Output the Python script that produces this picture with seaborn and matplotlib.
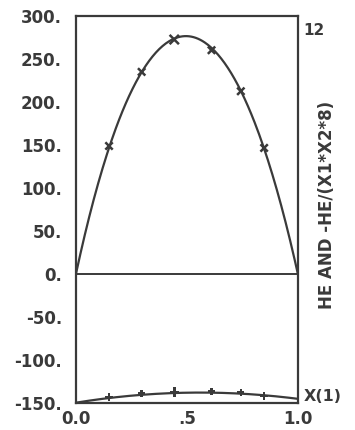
import numpy as np
import pandas as pd
import matplotlib
matplotlib.use("Agg")
import matplotlib.pyplot as plt
import seaborn as sns

# Measured excess enthalpy points (mole fraction of component 1)
x_meas = [0.149, 0.296, 0.443, 0.611, 0.743, 0.848]
he_meas = [148.6, 234.7, 272.3, 259.9, 212.2, 146.3]
# Reduced quantity -HE/(X1*X2*8) at the same compositions
he_red = [-143.3, -139.3, -137.4, -136.6, -138.1, -142.1]

# Redlich-Kister coefficients of the smoothing equation
rk_coeffs = [1105.0, -18.0, 75.0]

y_ticks = [300, 250, 200, 150, 100, 50, 0, -50, -100, -150]
y_tick_labels = ["300.", "250.", "200.", "150.", "100.", "50.", "0.", "-50.", "-100.", "-150."]
x_ticks = [0.0, 0.5, 1.0]
x_tick_labels = ["0.0", ".5", "1.0"]

ink = "#3a3a3a"

sns.set_style("white")
plt.rcParams["font.family"] = ["DejaVu Sans"]
plt.rcParams["font.weight"] = "bold"

fig = plt.figure(figsize=(3.55, 4.30), dpi=100)
ax = fig.add_axes([0.214, 0.063, 0.625, 0.9005])

# smoothing curve
xs = np.linspace(0.0, 1.0, 201)
z = 2 * xs - 1
q = sum(c * z**k for k, c in enumerate(rk_coeffs))
curve = pd.DataFrame({"x": xs, "he": xs * (1 - xs) * q, "red": -q / 8.0})

sns.lineplot(data=curve, x="x", y="he", ax=ax, color=ink, lw=1.6)
sns.lineplot(data=curve, x="x", y="red", ax=ax, color=ink, lw=1.6)

pts = pd.DataFrame({"x": x_meas, "he": he_meas, "red": he_red})
sizes = [45 if abs(v - 0.443) < 1e-6 else 28 for v in x_meas]
sns.scatterplot(data=pts, x="x", y="he", ax=ax, marker="x", s=sizes,
                color=ink, linewidth=1.8, legend=False, zorder=3)
sns.scatterplot(data=pts, x="x", y="red", ax=ax, marker="P", s=sizes,
                color=ink, linewidth=0, legend=False, zorder=3)

ax.axhline(0, color=ink, lw=1.4)

ax.set_xlim(0, 1)
ax.set_ylim(-150, 300)
ax.set_xticks(x_ticks)
ax.set_xticklabels(x_tick_labels)
ax.set_yticks(y_ticks)
ax.set_yticklabels(y_tick_labels)
ax.set_xlabel("")
ax.set_ylabel("")
for s in ax.spines.values():
    s.set_color(ink)
    s.set_linewidth(1.6)
ax.tick_params(axis="both", direction="inout", length=6, width=1.6,
               color=ink, labelcolor=ink, labelsize=12)
ax.tick_params(axis="y", pad=7)
ax.tick_params(axis="x", pad=2)
for lbl in ax.get_xticklabels() + ax.get_yticklabels():
    lbl.set_fontweight("bold")

fig.text(0.885, 0.930, "12", fontsize=11, fontweight="bold", color=ink,
         ha="center", va="center")
fig.text(0.921, 0.523, "HE AND -HE/(X1*X2*8)", fontsize=12, fontweight="bold",
         color=ink, rotation=90, ha="center", va="center")
fig.text(0.910, 0.079, "X(1)", fontsize=11.5, fontweight="bold", color=ink,
         ha="center", va="center")

fig.savefig("out.png", dpi=100, facecolor="white")
